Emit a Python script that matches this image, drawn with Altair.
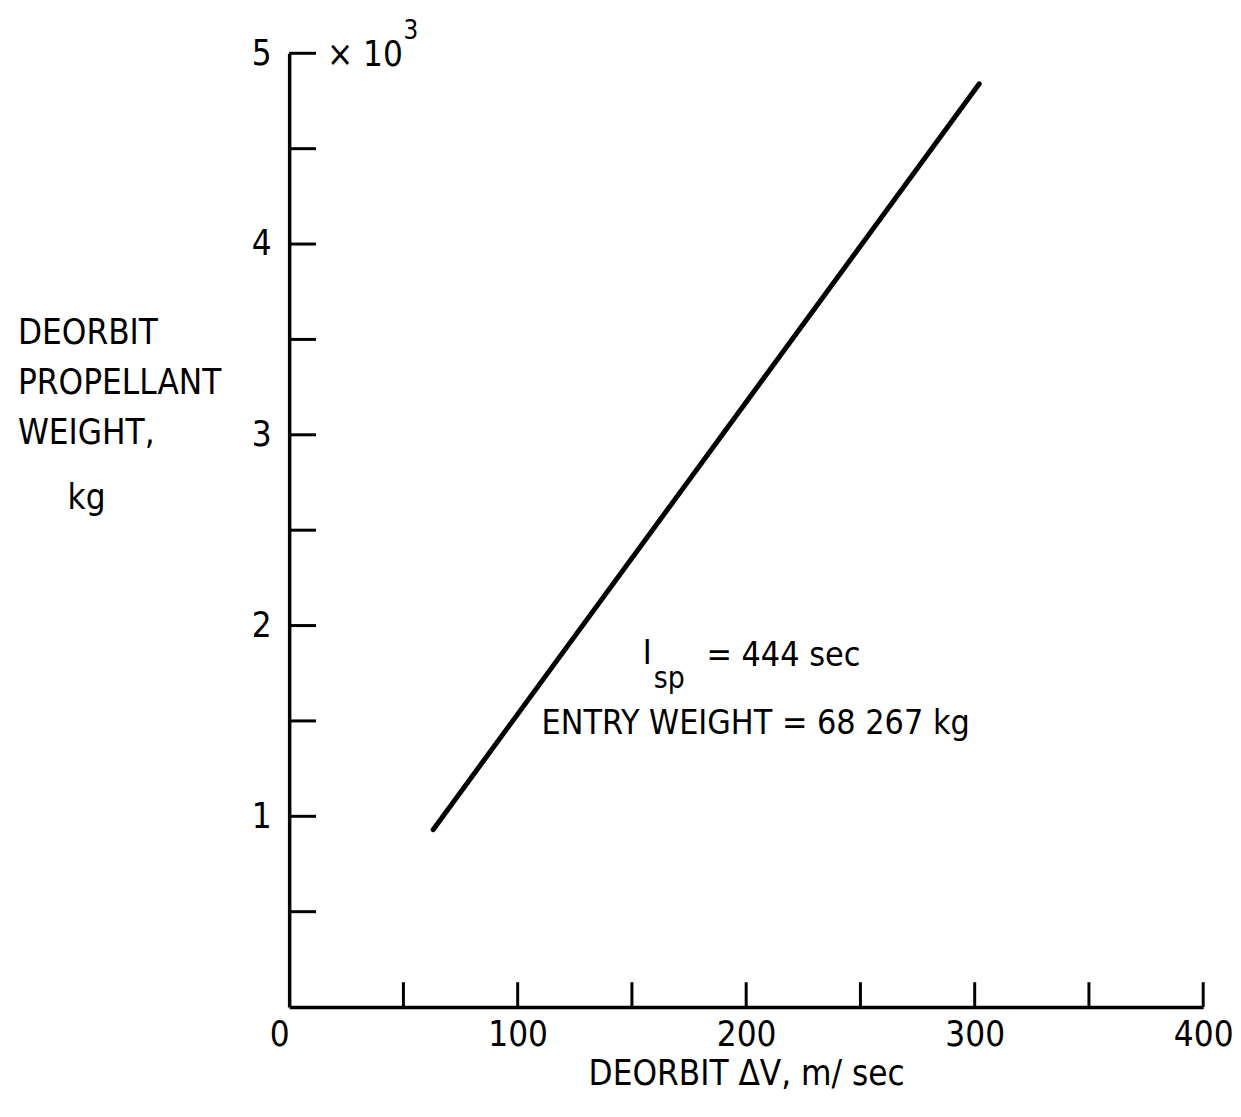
import altair as alt
import pandas as pd

# Data
deorbit_dv = [63, 302]          # m/sec
prop_weight = [0.93, 4.84]      # x10^3 kg
x_tick_vals = [50, 100, 150, 200, 250, 300, 350, 400]
y_tick_vals = [0.5, 1.0, 1.5, 2.0, 2.5, 3.0, 3.5, 4.0, 4.5, 5.0]
x_label_vals = [0, 100, 200, 300, 400]
y_label_vals = [1, 2, 3, 4, 5]

FONT = "'Liberation Sans Narrow', 'DejaVu Sans Condensed', sans-serif"
FS = 35
W, H = 920, 960

line_df = pd.DataFrame({"dv": deorbit_dv, "w": prop_weight})
xt_df = pd.DataFrame({"dv": x_tick_vals})
yt_df = pd.DataFrame({"w": y_tick_vals})

xs = alt.Scale(domain=[0, 400], nice=False, zero=True)
ys = alt.Scale(domain=[0, 5], nice=False, zero=True)

xaxis = alt.Axis(values=x_label_vals, format="d", ticks=False, grid=False, domainColor="black",
                 domainWidth=3.5, labelFont=FONT, labelFontSize=FS, labelColor="black",
                 labelPadding=11,
                 labelAlign=alt.expr("datum.value === 0 ? 'right' : 'center'"),
                 title="DEORBIT \u0394V,  m/ sec", titleFont=FONT, titleFontSize=FS,
                 titleFontWeight="normal", titleColor="black", titlePadding=4)
yaxis = alt.Axis(values=y_label_vals, format="d", ticks=False, grid=False, domainColor="black",
                 domainWidth=3.5, labelFont=FONT, labelFontSize=FS, labelColor="black",
                 labelPadding=18, title=None)

line = alt.Chart(line_df).mark_line(color="black", strokeWidth=5, strokeCap="round").encode(
    x=alt.X("dv:Q", scale=xs, axis=xaxis),
    y=alt.Y("w:Q", scale=ys, axis=yaxis),
)

xticks = alt.Chart(xt_df).mark_rule(color="black", strokeWidth=3).encode(
    x=alt.X("dv:Q", scale=xs), y=alt.value(H), y2=alt.value(H - 25))
yticks = alt.Chart(yt_df).mark_rule(color="black", strokeWidth=3).encode(
    y=alt.Y("w:Q", scale=ys), x=alt.value(0), x2=alt.value(27))

def txt(s, x, y, size=FS, align="left", baseline="middle"):
    return alt.Chart(pd.DataFrame({"t": [s]})).mark_text(
        font=FONT, fontSize=size, align=align, baseline=baseline, color="black"
    ).encode(text="t:N", x=alt.value(x), y=alt.value(y))

annots = [
    txt("\u00d7 10", 38, 2),
    txt("3", 115, -22, size=26),
    txt("DEORBIT", -273, 282),
    txt("PROPELLANT", -273, 332),
    txt("WEIGHT,", -273, 382),
    txt("kg", -223, 448),
    txt("I", 356, 605, size=34),
    txt("sp", 367, 630, size=30),
    txt("= 444 sec", 420, 607, size=34),
    txt("ENTRY WEIGHT = 68 267 kg", 254, 675, size=34),
]

chart = alt.layer(line, xticks, yticks, *annots).properties(
    width=W, height=H,
    background="white",
    autosize=alt.AutoSizeParams(type="none"),
    padding={"left": 283, "top": 42, "right": 30, "bottom": 96},
).configure_view(strokeWidth=0)

chart.save("out.html", embed_options={"renderer": "svg", "actions": False})
